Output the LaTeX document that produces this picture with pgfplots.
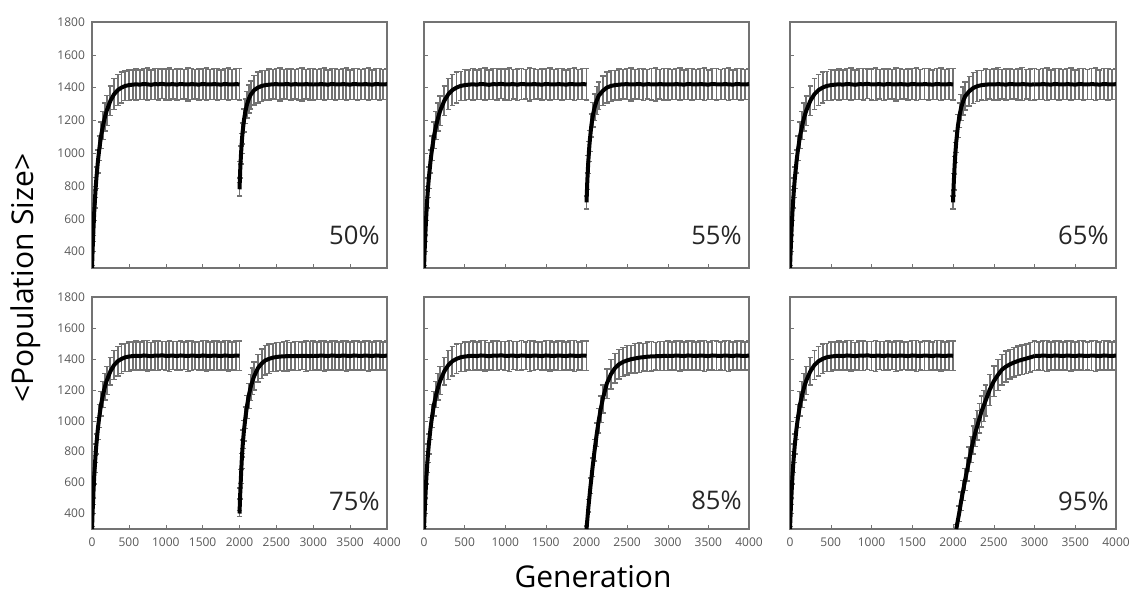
\documentclass[border=0pt]{standalone}
\usepackage{pgfplots}
\usepackage{pgfplotstable}
\pgfplotsset{compat=1.18}
\usepackage{fontspec}
\setmainfont{Open Sans}

\pgfplotstableread{
g m e
0 300 15
10 430 30
20 540 40
30 640 50
40 720 55
50 790 60
60 850 65
80 950 70
100 1030 75
125 1110 80
150 1170 85
175 1220 85
200 1260 90
250 1320 90
300 1360 95
350 1385 95
400 1400 95
450 1410 90
500 1415 95
550 1418 90
600 1420 95
650 1418 90
700 1422 95
750 1420 100
800 1417 90
850 1421 95
900 1420 95
950 1423 90
1000 1419 95
1050 1420 100
1100 1421 90
1150 1418 95
1200 1422 95
1250 1420 90
1300 1419 100
1350 1421 95
1400 1420 90
1450 1418 95
1500 1422 95
1550 1420 100
1600 1419 90
1650 1421 95
1700 1420 95
1750 1418 90
1800 1422 95
1850 1420 100
1900 1419 90
1950 1421 95
2000 1420 95
}\segA

\pgfplotstableread{
g m e
3000 1420 95
3050 1419 90
3100 1421 95
3150 1420 100
3200 1418 90
3250 1422 95
3300 1420 95
3350 1419 90
3400 1421 95
3450 1420 100
3500 1418 90
3550 1422 95
3600 1420 95
3650 1419 90
3700 1421 95
3750 1420 100
3800 1418 90
3850 1422 95
3900 1420 95
3950 1419 90
4000 1421 95
}\plat

\pgfplotstableread{
g m e
2000 780 40
2010 900 50
2020 990 55
2030 1060 60
2040 1120 65
2060 1200 70
2080 1255 75
2100 1295 80
2125 1330 85
2150 1355 85
2200 1385 90
2250 1400 95
2300 1410 95
2350 1415 90
2400 1418 95
2450 1420 90
2500 1421 95
2550 1419 100
2600 1420 90
2650 1422 95
2700 1418 95
2750 1421 90
2800 1420 95
2850 1419 100
2900 1421 90
2950 1420 95
3000 1420 95
}\rA

\pgfplotstableread{
g m e
2000 700 40
2010 830 50
2020 930 55
2030 1010 60
2040 1075 65
2060 1170 70
2080 1235 75
2100 1280 80
2125 1320 85
2150 1350 85
2200 1380 90
2250 1400 95
2300 1410 95
2350 1415 90
2400 1418 95
2450 1420 90
2500 1421 95
2550 1419 100
2600 1420 90
2650 1422 95
2700 1418 95
2750 1421 90
2800 1420 95
2850 1419 100
2900 1421 90
2950 1420 95
3000 1420 95
}\rB

\pgfplotstableread{
g m e
2000 700 40
2010 825 50
2020 925 55
2030 1005 60
2040 1070 65
2060 1165 70
2080 1230 75
2100 1278 80
2125 1318 85
2150 1348 85
2200 1378 90
2250 1398 95
2300 1409 95
2350 1415 90
2400 1418 95
2450 1420 90
2500 1419 95
2550 1421 100
2600 1420 90
2650 1418 95
2700 1422 95
2750 1420 90
2800 1419 95
2850 1421 100
2900 1420 90
2950 1418 95
3000 1420 95
}\rC

\pgfplotstableread{
g m e
2000 400 20
2010 530 35
2020 640 45
2030 740 50
2040 820 55
2050 880 60
2060 935 65
2080 1020 70
2100 1090 75
2125 1160 80
2150 1215 85
2175 1255 85
2200 1290 90
2250 1340 90
2300 1370 95
2350 1390 95
2400 1400 95
2450 1408 90
2500 1412 95
2550 1415 90
2600 1416 95
2650 1418 100
2700 1417 90
2750 1419 95
2800 1418 95
2850 1420 90
2900 1419 100
2950 1418 95
3000 1420 95
}\rD

\pgfplotstableread{
g m e
2000 300 20
2025 450 40
2050 580 50
2075 700 60
2100 810 70
2125 910 75
2150 1000 80
2175 1075 85
2200 1140 90
2250 1240 95
2300 1300 95
2350 1340 95
2400 1365 95
2450 1380 95
2500 1390 95
2550 1398 90
2600 1403 95
2650 1408 95
2700 1411 90
2750 1414 95
2800 1416 95
2850 1417 90
2900 1418 95
2950 1419 95
3000 1420 95
}\rE

\pgfplotstableread{
g m e
2040 300 30
2075 400 50
2100 480 60
2125 550 65
2150 620 70
2175 685 75
2200 750 80
2225 815 85
2250 875 90
2275 925 90
2300 970 95
2325 1015 95
2350 1060 100
2375 1095 100
2400 1130 100
2450 1200 100
2500 1255 100
2550 1295 100
2600 1330 100
2650 1350 100
2700 1365 95
2750 1377 95
2800 1387 95
2850 1395 95
2900 1402 95
2950 1410 95
3000 1418 95
}\rF

\pgfplotsset{
  panel/.style={
    scale only axis, anchor=south west,
    xmin=0, xmax=4000, ymin=300, ymax=1800,
    xtick={0,500,...,4000}, ytick={400,600,...,1800},
    tick pos=left, tick align=inside, major tick length=2pt,
    axis line style={black!55, line width=0.6pt}, tick style={black!55},
    ticklabel style={font=\fontsize{6}{7}\selectfont, text=black!65},
    /pgf/number format/assume math mode=true,
    /pgf/number format/1000 sep={}, scaled ticks=false,
    xticklabel style={yshift=-1pt},
    clip=true,
  },
  eb/.style={black!55, line width=0.4pt, mark=none, forget plot,
    error bars/.cd, y dir=both, y explicit,
    error bar style={line width=0.95pt, black!55},
    error mark options={rotate=90, mark size=1.4pt, line width=0.7pt, black!55}},
  mn/.style={black, line width=2pt, mark=none, line join=round},
}
\tikzset{pct/.style={anchor=base east, inner sep=0pt, font=\fontsize{12.8}{14}\selectfont, text=black!85}}

\newcommand{\panel}[1]{%
  \addplot[eb] table[x=g, y=m, y error=e] {\segA};
  \addplot[eb] table[x=g, y=m, y error=e] {#1};
  \addplot[eb] table[x=g, y=m, y error=e] {\plat};
  \addplot[mn] table[x=g, y=m] {\segA};
  \addplot[mn] table[x=g, y=m] {#1};
  \addplot[mn] table[x=g, y=m] {\plat};
}

\begin{document}
\begin{tikzpicture}
\useasboundingbox (0,0) rectangle (568.5pt,298pt);

% top row
\begin{axis}[panel, at={(46pt,164pt)}, width=147.5pt, height=123pt, xticklabels={}]
\panel{\rA}
\node[pct, xshift=-3.5pt, yshift=11.5pt] at (rel axis cs:1,0) {50\%};
\end{axis}
\begin{axis}[panel, at={(212pt,164pt)}, width=162.5pt, height=123pt, xticklabels={}, yticklabels={}]
\panel{\rB}
\node[pct, xshift=-3.5pt, yshift=11.5pt] at (rel axis cs:1,0) {55\%};
\end{axis}
\begin{axis}[panel, at={(395pt,164pt)}, width=163pt, height=123pt, xticklabels={}, yticklabels={}]
\panel{\rC}
\node[pct, xshift=-3.5pt, yshift=11.5pt] at (rel axis cs:1,0) {65\%};
\end{axis}

% bottom row
\begin{axis}[panel, at={(46pt,33.5pt)}, width=147.5pt, height=116pt]
\panel{\rD}
\node[pct, xshift=-3.5pt, yshift=9.5pt] at (rel axis cs:1,0) {75\%};
\end{axis}
\begin{axis}[panel, at={(212pt,33.5pt)}, width=162.5pt, height=116pt, yticklabels={}]
\panel{\rE}
\node[pct, xshift=-3.5pt, yshift=9.5pt] at (rel axis cs:1,0) {85\%};
\end{axis}
\begin{axis}[panel, at={(395pt,33.5pt)}, width=163pt, height=116pt, yticklabels={}]
\panel{\rF}
\node[pct, xshift=-3.5pt, yshift=9.5pt] at (rel axis cs:1,0) {95\%};
\end{axis}

\node[font=\fontsize{15}{17}\selectfont, anchor=base] at (296.5pt,4.5pt) {Generation};
\node[font=\fontsize{15}{17}\selectfont, rotate=90] at (13pt,159pt) {<Population Size>};
\end{tikzpicture}
\end{document}
